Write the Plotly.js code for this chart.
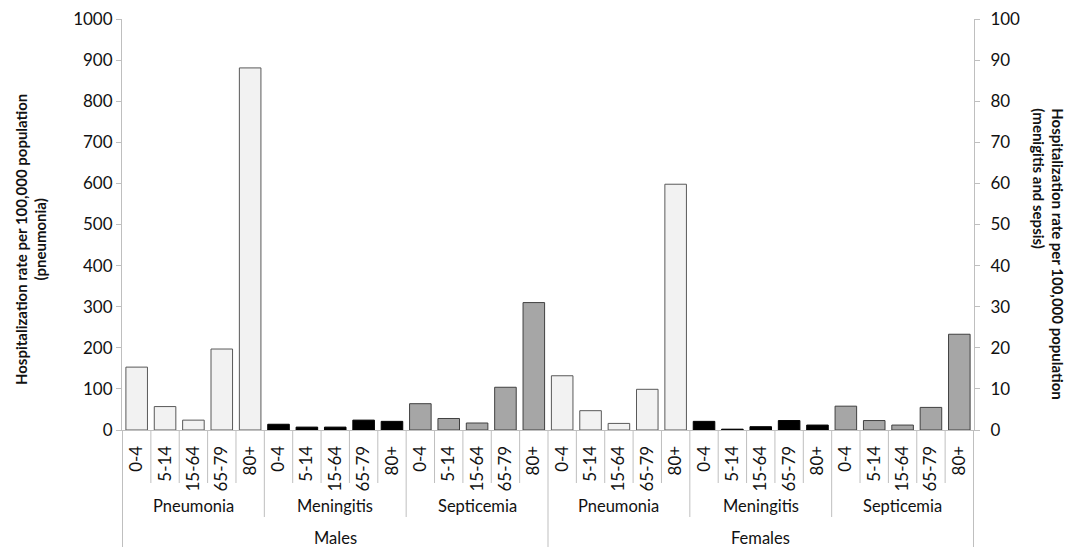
<!DOCTYPE html>
<html>
<head>
<meta charset="utf-8">
<script src="https://cdn.plot.ly/plotly-3.0.1.min.js"></script>
<style>html,body{margin:0;padding:0;background:#fff;}#chart{width:1070px;height:547px;}</style>
</head>
<body>
<div id="chart"></div>
<script>
// ---- data ----
var sexes = ['Males', 'Females'];
var diseases = ['Pneumonia', 'Meningitis', 'Septicemia'];
var ages = ['0-4', '5-14', '15-64', '65-79', '80+'];

// pneumonia (left axis)
var pneumoniaMales = [153, 57, 24, 197, 881];
var pneumoniaFemales = [132, 47, 16, 99, 598];
// meningitis (right axis)
var meningitisMales = [1.4, 0.7, 0.7, 2.4, 2.1];
var meningitisFemales = [2.1, 0.2, 0.8, 2.3, 1.2];
// septicemia (right axis)
var septicemiaMales = [6.4, 2.8, 1.7, 10.4, 31.0];
var septicemiaFemales = [5.8, 2.3, 1.2, 5.5, 23.3];

var valuesBy = {
  Pneumonia: [pneumoniaMales, pneumoniaFemales],
  Meningitis: [meningitisMales, meningitisFemales],
  Septicemia: [septicemiaMales, septicemiaFemales]
};

// ---- build categories ----
var allKeys = [], allText = [];
sexes.forEach(function (s) {
  diseases.forEach(function (d) {
    ages.forEach(function (a) {
      allKeys.push(s + '|' + d + '|' + a);
      allText.push(a);
    });
  });
});

function traceFor(disease, yaxis, fill, line) {
  var xs = [], ys = [];
  sexes.forEach(function (s, si) {
    ages.forEach(function (a, ai) {
      xs.push(s + '|' + disease + '|' + a);
      ys.push(valuesBy[disease][si][ai]);
    });
  });
  return {
    type: 'bar', x: xs, y: ys, yaxis: yaxis, name: disease,
    marker: {color: fill, line: {color: line, width: 1}},
    hoverinfo: 'x+y'
  };
}

var traces = [
  traceFor('Pneumonia', 'y', '#f2f2f2', '#595959'),
  traceFor('Meningitis', 'y2', '#000000', '#000000'),
  traceFor('Septicemia', 'y2', '#a6a6a6', '#404040')
];

// ---- layout helpers ----
var plotH = 411; // px height of plot area
function py(px) { return -px / plotH; } // px below x-axis to paper coords
var sepColor = '#bfbfbf';
var shapes = [];
var nCat = allKeys.length;
var perSex = diseases.length * ages.length;
for (var b = 0; b <= nCat; b++) {
  var depth;
  if (b % perSex === 0) depth = 117;
  else if (b % ages.length === 0) depth = 87;
  else depth = 53;
  shapes.push({
    type: 'line', xref: 'x', yref: 'paper',
    x0: b - 0.5, x1: b - 0.5, y0: 0, y1: py(depth),
    line: {color: sepColor, width: 1}
  });
}

var FONT = 'Lato, sans-serif';
var annotations = [];
var baseFont = {family: FONT, size: 16.5, color: '#111111'};
sexes.forEach(function (s, si) {
  diseases.forEach(function (d, di) {
    var center = si * perSex + di * ages.length + (ages.length - 1) / 2;
    annotations.push({
      text: d, xref: 'x', yref: 'paper', x: center, y: py(76),
      showarrow: false, font: baseFont, xanchor: 'center', yanchor: 'middle'
    });
  });
  annotations.push({
    text: s, xref: 'x', yref: 'paper', x: si * perSex + (perSex - 1) / 2, y: py(108),
    showarrow: false, font: baseFont, xanchor: 'center', yanchor: 'middle'
  });
});

var titleFont = {family: FONT, size: 15, color: '#111111'};
annotations.push({
  text: '<b>Hospitalization rate per 100,000 population</b><br><b>(pneumonia)</b>',
  xref: 'paper', yref: 'paper', x: 0, xshift: -91, y: 0.462,
  textangle: -90, showarrow: false, font: titleFont,
  xanchor: 'center', yanchor: 'middle', align: 'center'
});
annotations.push({
  text: '<b>Hospitalization rate per 100,000 population</b><br><b>(menigitis and sepsis)</b>',
  xref: 'paper', yref: 'paper', x: 1, xshift: 74, y: 0.43,
  textangle: 90, showarrow: false, font: titleFont,
  xanchor: 'center', yanchor: 'middle', align: 'left'
});

var tickFont = {family: FONT, size: 17, color: '#111111'};
var layout = {
  width: 1070, height: 547,
  margin: {l: 122, r: 96, t: 19, b: 117},
  paper_bgcolor: '#ffffff', plot_bgcolor: '#ffffff',
  barmode: 'overlay', bargap: 0.24,
  showlegend: false,
  xaxis: {
    type: 'category', categoryorder: 'array', categoryarray: allKeys,
    tickmode: 'array', tickvals: allKeys, ticktext: allText,
    tickangle: -90, tickfont: tickFont, ticks: '', ticklabelstandoff: 8,
    showline: true, linecolor: sepColor, linewidth: 1,
    showgrid: false, zeroline: false, fixedrange: true
  },
  yaxis: {
    range: [0, 1000], dtick: 100, tick0: 0,
    showline: true, linecolor: sepColor, linewidth: 1,
    ticks: 'outside', ticklen: 5, tickcolor: sepColor,
    tickfont: tickFont, showgrid: false, zeroline: false
  },
  yaxis2: {
    range: [0, 100], dtick: 10, tick0: 0,
    overlaying: 'y', side: 'right',
    showline: true, linecolor: sepColor, linewidth: 1,
    ticks: 'outside', ticklen: 5, tickcolor: sepColor,
    tickfont: tickFont, showgrid: false, zeroline: false,
    ticklabelstandoff: 7
  },
  shapes: shapes,
  annotations: annotations
};

Plotly.newPlot('chart', traces, layout, {displayModeBar: false, staticPlot: true});
</script>
</body>
</html>
